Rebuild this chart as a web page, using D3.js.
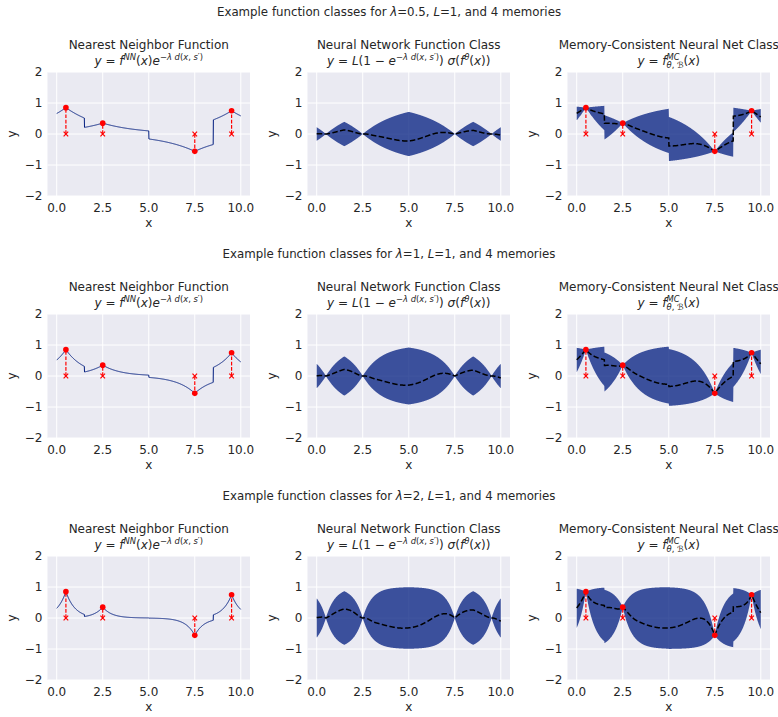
<!DOCTYPE html>
<html>
<head>
<meta charset="utf-8">
<script src="https://cdn.jsdelivr.net/npm/d3@7"></script>
<style>
  body { margin: 0; background: #fff; }
  svg { display: block; font-family: "DejaVu Sans", sans-serif; }
</style>
</head>
<body>
<script>
// memories: where they sit and the value stored there
const memX = [0.5, 2.5, 7.5, 9.5];
const memY = [0.85, 0.35, -0.56, 0.75];
// one row of panels per lambda
const lambdas = [0.5, 1, 2];
const lipschitz = 1;
const sigX = [0, 0.5, 1, 1.5, 2, 2.5, 3, 3.5, 4, 4.5, 5, 5.5, 6, 6.5, 7, 7.5, 8, 8.5, 9, 9.5, 10];
const sigY = [0.02, 0.14, 0.27, 0.335, 0.30, 0.07, -0.16, -0.23, -0.29, -0.33, -0.32, -0.26, -0.12, 0.07, 0.22, 0.28, 0.32, 0.30, 0.19, 0.02, -0.16];
const xTicks = [0, 2.5, 5, 7.5, 10];
const yTicks = [-2, -1, 0, 1, 2];
const colTitles = ["Nearest Neighbor Function", "Neural Network Function Class", "Memory-Consistent Neural Net Class"];

const W = 778, H = 717;
const colLeft = [47.5, 307.5, 567.5];
const rowTop = [72, 314, 556];
const axW = 202.5, axH = 124;
const ink = "#262626";
const navy = "#001c7f";
const fsTick = 12, fsTitle = 12, fsSup = 11.8;

const svg = d3.select("body").append("svg").attr("width", W).attr("height", H);

const x = d3.scaleLinear().domain([-0.5, 10.5]).range([0, axW]);
const y = d3.scaleLinear().domain([-2, 2]).range([axH, 0]);

// small mathtext helper: parts = {t, i: italic, k: size factor, s: shift (em), sup / under flags}
function mathText(g, parts, fs, px, py) {
    const t = g.append("text").attr("x", px).attr("y", py)
        .attr("text-anchor", "middle").attr("font-size", fs).attr("fill", ink);
    let shift = 0, supW = 0, subW = 0, inSub = false;
    parts.forEach(p => {
        const s = (p.s || 0) * fs;
        const ts = t.append("tspan").text(p.t)
            .attr("font-style", p.i ? "italic" : "normal")
            .attr("font-size", fs * (p.k || 1))
            .attr("dy", s - shift);
        shift = s;
        if (p.sup) { supW += ts.node().getComputedTextLength(); }
        else if (p.under) {
            if (!inSub) ts.attr("dx", -supW);
            inSub = true;
            subW += ts.node().getComputedTextLength();
        } else {
            if (inSub && supW > subW) ts.attr("dx", supW - subW);
            supW = 0; subW = 0; inSub = false;
        }
    });
}

const sup = (t, i) => ({ t, i, k: 0.7, s: -0.42, sup: true });
const sub = (t, i) => ({ t, i, k: 0.7, s: 0.25, under: true });

const formulas = [
    [{ t: "y", i: 1 }, { t: " = " }, { t: "f", i: 1 }, sup("NN", 1), { t: "(" }, { t: "x", i: 1 }, { t: ")" },
     { t: "e", i: 1 }, sup("−"), sup("λ", 1), sup(" "), sup("d", 1), sup("("), sup("x", 1), sup(", "), sup("s", 1), sup("′"), sup(")")],
    [{ t: "y", i: 1 }, { t: " = " }, { t: "L", i: 1 }, { t: "(1 − " }, { t: "e", i: 1 },
     sup("−"), sup("λ", 1), sup(" "), sup("d", 1), sup("("), sup("x", 1), sup(", "), sup("s", 1), sup("′"), sup(")"),
     { t: ") " }, { t: "σ", i: 1 }, { t: "(" }, { t: "f", i: 1 }, sup("θ", 1), { t: "(" }, { t: "x", i: 1 }, { t: "))" }],
    [{ t: "y", i: 1 }, { t: " = " }, { t: "f", i: 1 }, sup("MC", 1), sub("θ", 1), sub(", "), sub("ℬ", 1),
     { t: "(" }, { t: "x", i: 1 }, { t: ")" }]
];

// catmull-rom through the read samples of sigma(f_theta)
function sigma(v) {
    const h = sigX[1] - sigX[0], n = sigY.length;
    const i = Math.max(0, Math.min(Math.floor((v - sigX[0]) / h), n - 2));
    const t = (v - sigX[0]) / h - i;
    const p0 = sigY[Math.max(i - 1, 0)], p1 = sigY[i], p2 = sigY[i + 1], p3 = sigY[Math.min(i + 2, n - 1)];
    return 0.5 * (2 * p1 + (-p0 + p2) * t + (2 * p0 - 5 * p1 + 4 * p2 - p3) * t * t + (-p0 + 3 * p1 - 3 * p2 + p3) * t * t * t);
}

const grid = d3.range(0, 1001).map(i => i / 100);

lambdas.forEach((lam, r) => {
    const pts = grid.map(v => {
        let k = 0;
        memX.forEach((m, j) => { if (Math.abs(v - m) < Math.abs(v - memX[k])) k = j; });
        const d = Math.abs(v - memX[k]);
        const nn = memY[k] * Math.exp(-lam * d);
        const env = lipschitz * (1 - Math.exp(-lam * d));
        const nnet = env * sigma(v);
        return { v, nn, env, nnet };
    });

    // suptitle for the row
    const st = svg.append("text").attr("x", W / 2).attr("y", rowTop[r] - 56)
        .attr("text-anchor", "middle").attr("font-size", fsSup).attr("fill", ink);
    st.append("tspan").text("Example function classes for ");
    st.append("tspan").attr("font-style", "italic").text("λ");
    st.append("tspan").text("=" + lam + ", ");
    st.append("tspan").attr("font-style", "italic").text("L");
    st.append("tspan").text("=" + lipschitz + ", and " + memX.length + " memories");

    colLeft.forEach((left, c) => {
        const g = svg.append("g").attr("transform", `translate(${left},${rowTop[r]})`);
        g.append("rect").attr("width", axW).attr("height", axH).attr("fill", "#eaeaf2");
        g.selectAll(".gx").data(xTicks).join("line")
            .attr("x1", d => x(d)).attr("x2", d => x(d)).attr("y1", 0).attr("y2", axH)
            .attr("stroke", "#fff").attr("stroke-width", 1);
        g.selectAll(".gy").data(yTicks).join("line")
            .attr("y1", d => y(d)).attr("y2", d => y(d)).attr("x1", 0).attr("x2", axW)
            .attr("stroke", "#fff").attr("stroke-width", 1);

        g.selectAll(".tx").data(xTicks).join("text")
            .attr("x", d => x(d)).attr("y", axH + 15.5).attr("text-anchor", "middle")
            .attr("font-size", fsTick).attr("fill", ink).text(d3.format(".1f"));
        g.selectAll(".ty").data(yTicks).join("text")
            .attr("x", -5).attr("y", d => y(d) + 4.3).attr("text-anchor", "end")
            .attr("font-size", fsTick).attr("fill", ink).text(d => d < 0 ? "−" + Math.abs(d) : d);
        g.append("text").attr("x", axW / 2).attr("y", axH + 30.5).attr("text-anchor", "middle")
            .attr("font-size", fsTitle).attr("fill", ink).text("x");
        g.append("text").attr("transform", "translate(-32," + axH / 2 + ") rotate(-90)")
            .attr("text-anchor", "middle").attr("font-size", fsTitle).attr("fill", ink).text("y");

        g.append("text").attr("x", axW / 2).attr("y", -23).attr("text-anchor", "middle")
            .attr("font-size", fsTitle).attr("fill", ink).text(colTitles[c]);
        mathText(g, formulas[c], fsTitle, axW / 2, -7);

        const line = d3.line().x(d => x(d.v));
        if (c === 0) {
            g.append("path").datum(pts).attr("fill", "none").attr("stroke", navy).attr("stroke-width", 1)
                .attr("d", line.y(d => y(d.nn)));
        } else if (c === 1) {
            g.append("path").datum(pts).attr("fill", navy).attr("fill-opacity", 0.75)
                .attr("d", d3.area().x(d => x(d.v)).y0(d => y(-d.env)).y1(d => y(d.env)));
            g.append("path").datum(pts).attr("fill", "none").attr("stroke", "#000").attr("stroke-width", 1.5)
                .attr("stroke-dasharray", "5.5,2.4").attr("d", line.y(d => y(d.nnet)));
        } else {
            g.append("path").datum(pts).attr("fill", navy).attr("fill-opacity", 0.75)
                .attr("d", d3.area().x(d => x(d.v)).y0(d => y(d.nn - d.env)).y1(d => y(d.nn + d.env)));
            g.append("path").datum(pts).attr("fill", "none").attr("stroke", "#000").attr("stroke-width", 1.5)
                .attr("stroke-dasharray", "5.5,2.4").attr("d", line.y(d => y(d.nn + d.nnet)));
        }

        if (c !== 1) {
            const mem = memX.map((m, j) => ({ m, v: memY[j] }));
            g.selectAll(".mv").data(mem).join("line")
                .attr("x1", d => x(d.m)).attr("x2", d => x(d.m)).attr("y1", y(0)).attr("y2", d => y(d.v))
                .attr("stroke", "red").attr("stroke-width", 1.2).attr("stroke-dasharray", "3.7,1.6");
            g.selectAll(".mx").data(mem).join("path")
                .attr("d", d => `M${x(d.m) - 2.3},${y(0) - 2.3}L${x(d.m) + 2.3},${y(0) + 2.3}M${x(d.m) - 2.3},${y(0) + 2.3}L${x(d.m) + 2.3},${y(0) - 2.3}`)
                .attr("stroke", "red").attr("stroke-width", 1.2);
            g.selectAll(".md").data(mem).join("circle")
                .attr("cx", d => x(d.m)).attr("cy", d => y(d.v)).attr("r", 2.8)
                .attr("fill", "red");
        }
    });
});
</script>
</body>
</html>
